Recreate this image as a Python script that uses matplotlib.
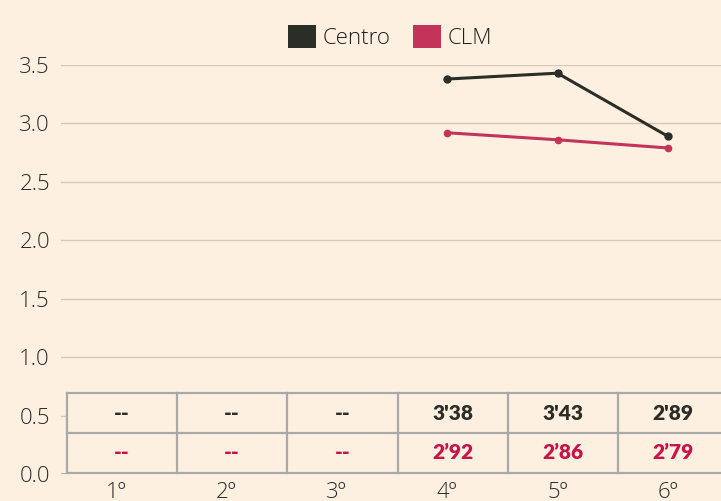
import matplotlib
matplotlib.use("Agg")
import matplotlib.pyplot as plt
from matplotlib.patches import Patch, Rectangle

# data
cursos = ["1º", "2º", "3º", "4º", "5º", "6º"]
centro = [None, None, None, 3.38, 3.43, 2.89]
clm = [None, None, None, 2.92, 2.86, 2.79]
centro_txt = ["--", "--", "--", "3'38", "3'43", "2'89"]
clm_txt = ["--", "--", "--", "2’92", "2’86", "2’79"]
yticks = [0.0, 0.5, 1.0, 1.5, 2.0, 2.5, 3.0, 3.5]

BG = "#fef0e1"
DARK = "#2b2d27"
RED = "#c4335a"
RED_TXT = "#c8134a"
GRID = "#d6c7b8"
BORDER = "#a9a9a9"

plt.rcParams["font.family"] = ["Open Sans", "DejaVu Sans"]

fig = plt.figure(figsize=(7.21, 5.01), dpi=100, facecolor=BG)
ax = fig.add_axes([61 / 721, 27 / 501, 662 / 721, 409 / 501], facecolor=BG)

x = list(range(len(cursos)))
ax.set_xlim(-0.5, len(cursos) - 0.5)
ax.set_ylim(0, 3.5)

for v in yticks:
    ax.axhline(v, color=GRID if v > 0 else BORDER, lw=1.0 if v > 0 else 2.0, zorder=1)

xs = [i for i, v in enumerate(centro) if v is not None]
ax.plot(xs, [centro[i] for i in xs], color=DARK, lw=2.2, marker="o", ms=5, zorder=4)
xs = [i for i, v in enumerate(clm) if v is not None]
ax.plot(xs, [clm[i] for i in xs], color=RED, lw=2.2, marker="o", ms=4.5, zorder=4)

# table under the lines
left, top, mid, bot = -0.45, 0.69, 0.35, 0.01
right = left + len(cursos)
ax.add_patch(Rectangle((left, bot), right - left, top - bot, facecolor=BG,
                       edgecolor="none", zorder=2, clip_on=False))
for yy in (top, mid, bot):
    ax.plot([left, right], [yy, yy], color=BORDER, lw=1.6, zorder=3, clip_on=False)
for i in range(len(cursos) + 1):
    ax.plot([left + i, left + i], [bot, top], color=BORDER, lw=1.6, zorder=3, clip_on=False)
for i in range(len(cursos)):
    ax.text(i + 0.05, (top + mid) / 2, centro_txt[i], ha="center", va="center",
            fontsize=15, fontweight="heavy", color=DARK, family=["Lato", "DejaVu Sans"], zorder=5)
    ax.text(i + 0.05, (mid + bot) / 2, clm_txt[i], ha="center", va="center",
            fontsize=15, fontweight="heavy", color=RED_TXT, family=["Lato", "DejaVu Sans"], zorder=5)

ax.set_xticks(x)
ax.set_xticklabels(cursos)
ax.set_yticks(yticks)
ax.set_yticklabels([f"{v:.1f}" for v in yticks])
ax.tick_params(axis="both", length=0, labelsize=16, colors="#2a2a2a")
ax.tick_params(axis="x", pad=6)
ax.tick_params(axis="y", pad=8)
for lab in ax.get_xticklabels() + ax.get_yticklabels():
    lab.set_fontweight("light")
for s in ax.spines.values():
    s.set_visible(False)

handles = [Patch(facecolor=DARK, label="Centro"), Patch(facecolor=RED, label="CLM")]
leg = fig.legend(handles=handles, loc="center", bbox_to_anchor=(390 / 721, 1 - 37 / 501),
                 ncol=2, frameon=False, fontsize=16, handlelength=1.25, handleheight=1.25,
                 handletextpad=0.3, columnspacing=1.0)
for t in leg.get_texts():
    t.set_color("#1e1e1e")
    t.set_fontweight("light")

fig.savefig("out.png", dpi=100, facecolor=BG)
